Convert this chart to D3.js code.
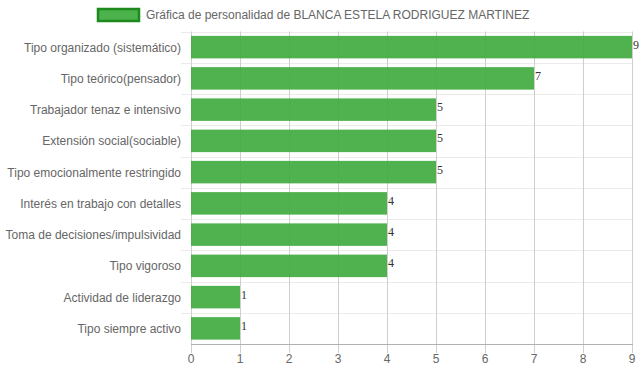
<!DOCTYPE html>
<html>
<head>
<meta charset="utf-8">
<script src="https://cdn.jsdelivr.net/npm/d3@7"></script>
<style>
body{margin:0;background:#fff;}
svg{display:block;}
</style>
</head>
<body>
<svg id="chart" width="639" height="372"></svg>
<script>
const categories = [
  "Tipo organizado (sistemático)",
  "Tipo teórico(pensador)",
  "Trabajador tenaz e intensivo",
  "Extensión social(sociable)",
  "Tipo emocionalmente restringido",
  "Interés en trabajo con detalles",
  "Toma de decisiones/impulsividad",
  "Tipo vigoroso",
  "Actividad de liderazgo",
  "Tipo siempre activo"
];
const values = [9, 7, 5, 5, 5, 4, 4, 4, 1, 1];
const xTicks = [0,1,2,3,4,5,6,7,8,9];
const seriesName = "Gráfica de personalidad de BLANCA ESTELA RODRIGUEZ MARTINEZ";

(function(){
const svg = d3.select("#chart");
const pLeft = 191, pRight = 632, pTop = 31.5, pBottom = 344;
const font = "Liberation Sans, Arial, sans-serif";

const x = d3.scaleLinear().domain([0, 9]).range([pLeft, pRight]);
const y = d3.scaleBand().domain(categories).range([pTop, pBottom]).paddingInner(0).paddingOuter(0);
const barH = y.bandwidth() * 0.72;

// horizontal gridlines (category boundaries)
const bounds = categories.map(c => y(c));
svg.append("g").selectAll("line").data(bounds).join("line")
  .attr("x1", pLeft - 10).attr("x2", pRight)
  .attr("y1", d => Math.round(d) + 0.5).attr("y2", d => Math.round(d) + 0.5)
  .attr("stroke", "#ebebeb").attr("stroke-width", 1);

// vertical gridlines
svg.append("g").selectAll("line").data(xTicks).join("line")
  .attr("x1", d => Math.round(x(d)) + 0.5).attr("x2", d => Math.round(x(d)) + 0.5)
  .attr("y1", pTop).attr("y2", pBottom + 9)
  .attr("stroke", "#cfcfcf").attr("stroke-width", 1);

// axis line
svg.append("line").attr("x1", pLeft).attr("x2", pRight + 1)
  .attr("y1", pBottom + 0.5).attr("y2", pBottom + 0.5)
  .attr("stroke", "#b0b0b0");

// bars
svg.append("g").selectAll("rect").data(values).join("rect")
  .attr("x", x(0))
  .attr("y", (d, i) => y(categories[i]) + (y.bandwidth() - barH) / 2)
  .attr("width", d => x(d) - x(0))
  .attr("height", barH)
  .attr("fill", "rgb(60,170,60)").attr("fill-opacity", 0.9);

// value labels
svg.append("g").selectAll("text").data(values).join("text")
  .attr("x", d => x(d) + 1)
  .attr("y", (d, i) => y(categories[i]) + y.bandwidth() / 2 + 1.5)
  .attr("font-family", "Liberation Serif, Times New Roman, serif")
  .attr("font-size", 12).attr("fill", "#333")
  .text(d => d);

// category labels
svg.append("g").selectAll("text").data(categories).join("text")
  .attr("x", 181)
  .attr("y", d => y(d) + y.bandwidth() / 2 + 4.5)
  .attr("text-anchor", "end")
  .attr("font-family", font).attr("font-size", 12).attr("fill", "#666")
  .text(d => d);

// x tick labels
svg.append("g").selectAll("text").data(xTicks).join("text")
  .attr("x", d => x(d))
  .attr("y", 363)
  .attr("text-anchor", "middle")
  .attr("font-family", font).attr("font-size", 12).attr("fill", "#666")
  .text(d => d);

// legend
svg.append("rect").attr("x", 98).attr("y", 9).attr("width", 41).attr("height", 12)
  .attr("fill", "rgb(76,178,76)").attr("stroke", "#1e8a1e").attr("stroke-width", 2.5);
svg.append("text").attr("x", 146).attr("y", 19)
  .attr("font-family", font).attr("font-size", 12).attr("fill", "#666")
  .text(seriesName);
})();
</script>
</body>
</html>
